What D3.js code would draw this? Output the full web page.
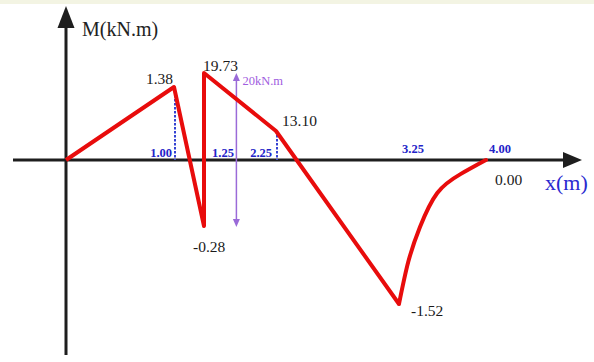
<!DOCTYPE html>
<html>
<head>
<meta charset="utf-8">
<script src="https://cdn.jsdelivr.net/npm/d3@7"></script>
<style>
    body { margin: 0; background: #fff; }
    svg { display: block; }
    text { font-family: "Liberation Serif", "Times New Roman", serif; }
</style>
</head>
<body>
<script>
// Section positions along the beam (m) and the bending moment there (kN.m)
var stations = [0, 1.00, 1.25, 1.25, 2.25, 3.25];
var moments = [0, 1.38, -0.28, 19.73, 13.10, -1.52];
var momentLabels = ["", "1.38", "-0.28", "19.73", "13.10", "-1.52"];

// Curved part between x = 3.25 and x = 4.00
var curveX = [3.25, 3.33, 3.43, 3.58, 3.78, 4.00];
var curveM = [-1.52, -0.85, -0.30, -0.14, -0.06, 0];

// Tick labels on the x axis
var tickValues = [1.00, 1.25, 2.25, 3.25, 4.00];
var tickLabels = ["1.00", "1.25", "2.25", "3.25", "4.00"];

// The concentrated moment jump at x = 1.25
var jumpLabel = "20kN.m";

var width = 594, height = 362;

var svg = d3.select("body").append("svg")
    .attr("width", width)
    .attr("height", height);

// Light band at the top of the picture
svg.append("rect")
    .attr("x", 0).attr("y", 0)
    .attr("width", width).attr("height", 4)
    .attr("fill", "#f3f4e3");

// The diagram is not drawn to scale, so both scales are piecewise
var x = d3.scaleLinear()
    .domain([0, 1, 1.25, 2.25, 3.25, 4])
    .range([66, 174, 204, 276, 399, 486]);

var y = d3.scaleLinear()
    .domain([-1.52, -0.28, 0, 1.38, 13.10, 19.73])
    .range([304, 226, 160, 87, 131, 73]);

var x0 = x(0), y0 = y(0);

// Axes
var axisColor = "#1e1e1e";
svg.append("line")
    .attr("x1", 13).attr("x2", 566)
    .attr("y1", y0).attr("y2", y0)
    .attr("stroke", axisColor).attr("stroke-width", 3);
svg.append("path")
    .attr("d", "M" + 563 + "," + (y0 - 8) + "L" + 582 + "," + y0 + "L" + 563 + "," + (y0 + 8) + "Z")
    .attr("fill", axisColor);

svg.append("line")
    .attr("x1", x0).attr("x2", x0)
    .attr("y1", 355).attr("y2", 25)
    .attr("stroke", axisColor).attr("stroke-width", 3);
svg.append("path")
    .attr("d", "M" + (x0 - 8.5) + ",28L" + x0 + ",6L" + (x0 + 8.5) + ",28Z")
    .attr("fill", axisColor);

svg.append("text")
    .attr("x", 82).attr("y", 36)
    .attr("font-size", 20)
    .attr("fill", "#222")
    .text("M(kN.m)");

svg.append("text")
    .attr("x", 545).attr("y", 190)
    .attr("font-size", 22)
    .attr("fill", "#2a2ad0")
    .text("x(m)");

// Dotted ordinates at the sections
var dotted = [
    { xv: 1.00, top: 1.38, bottom: 0 },
    { xv: 1.25, top: 19.73, bottom: -0.28 },
    { xv: 2.25, top: 13.10, bottom: 0 }
];
svg.selectAll(".ordinate")
    .data(dotted)
    .enter().append("line")
    .attr("class", "ordinate")
    .attr("x1", function (d) { return x(d.xv) + 1; })
    .attr("x2", function (d) { return x(d.xv) + 1; })
    .attr("y1", function (d) { return y(d.top); })
    .attr("y2", function (d) { return y(d.bottom); })
    .attr("stroke", "#3442d2")
    .attr("stroke-width", 2)
    .attr("stroke-dasharray", "2.5,1.5");

// Tick labels
var tickAnchor = ["end", "start", "end", "start", "start"];
var tickDx = [-2, 8, -4, 3, 3];
var tickDy = [-3, -3, -3, -7, -7];
svg.selectAll(".tick")
    .data(tickValues)
    .enter().append("text")
    .attr("class", "tick")
    .attr("x", function (d, i) { return x(d) + tickDx[i]; })
    .attr("y", function (d, i) { return y0 + tickDy[i]; })
    .attr("text-anchor", function (d, i) { return tickAnchor[i]; })
    .attr("font-size", 12.5)
    .attr("font-weight", "bold")
    .attr("fill", "#2323c8")
    .text(function (d, i) { return tickLabels[i]; });

// Moment jump indicator
var jumpX = x(1.70);
var jumpColor = "#9a6ad8";
svg.append("line")
    .attr("x1", jumpX).attr("x2", jumpX)
    .attr("y1", y(19.73) + 6).attr("y2", y(-0.28) - 6)
    .attr("stroke", jumpColor).attr("stroke-width", 1.5);
svg.append("path")
    .attr("d", "M" + (jumpX - 3.5) + "," + (y(19.73) + 8) + "L" + jumpX + "," + y(19.73) + "L" + (jumpX + 3.5) + "," + (y(19.73) + 8) + "Z")
    .attr("fill", jumpColor);
svg.append("path")
    .attr("d", "M" + (jumpX - 3.5) + "," + (y(-0.28) - 7) + "L" + jumpX + "," + (y(-0.28) + 1) + "L" + (jumpX + 3.5) + "," + (y(-0.28) - 7) + "Z")
    .attr("fill", jumpColor);
svg.append("text")
    .attr("x", jumpX + 6).attr("y", y(19.73) + 12)
    .attr("font-size", 12.5)
    .attr("fill", "#a05ce0")
    .text(jumpLabel);

// Moment diagram
var pts = stations.map(function (s, i) { return [s, moments[i]]; });
var line = d3.line()
    .x(function (d) { return x(d[0]); })
    .y(function (d) { return y(d[1]); });

svg.append("path")
    .datum(pts)
    .attr("d", line)
    .attr("fill", "none")
    .attr("stroke", "#e80c0c")
    .attr("stroke-width", 4)
    .attr("stroke-linejoin", "round");

var curvePts = curveX.map(function (s, i) { return [s, curveM[i]]; });
svg.append("path")
    .datum(curvePts)
    .attr("d", line.curve(d3.curveNatural))
    .attr("fill", "none")
    .attr("stroke", "#e80c0c")
    .attr("stroke-width", 4)
    .attr("stroke-linecap", "round");

// Value labels
var labelDx = [0, -1, -11, -1, 6, 12];
var labelDy = [0, -3, 26, -2, -5, 12];
var labelAnchor = ["start", "end", "start", "start", "start", "start"];
svg.selectAll(".value")
    .data(pts)
    .enter().append("text")
    .attr("class", "value")
    .attr("x", function (d, i) { return x(d[0]) + labelDx[i]; })
    .attr("y", function (d, i) { return y(d[1]) + labelDy[i]; })
    .attr("text-anchor", function (d, i) { return labelAnchor[i]; })
    .attr("font-size", 15.5)
    .attr("fill", "#1a1a1a")
    .text(function (d, i) { return momentLabels[i]; });

svg.append("text")
    .attr("x", x(4.00) + 9).attr("y", y0 + 25)
    .attr("font-size", 15.5)
    .attr("fill", "#1a1a1a")
    .text("0.00");
</script>
</body>
</html>
